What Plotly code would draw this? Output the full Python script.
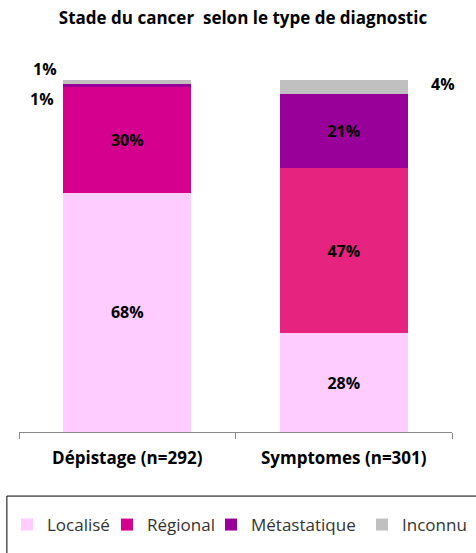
import plotly.graph_objects as go

categories = ["Dépistage (n=292)", "Symptomes (n=301)"]
series_names = ["Localisé", "Régional", "Métastatique", "Inconnu"]
localise = [68, 28]
regional = [30, 47]
metastatique = [1, 21]
inconnu = [1, 4]
title_text = "Stade du cancer  selon le type de diagnostic"

values = [localise, regional, metastatique, inconnu]
colors = [
    ["#FFCCFF", "#FFCCFF"],
    ["#D6008F", "#E6237F"],
    ["#990099", "#990099"],
    ["#C0C0C0", "#C0C0C0"],
]
legend_ids = ["legend", "legend2", "legend3", "legend4"]
legend_x_px = [7, 107, 211, 362]

FONT = "Open Sans"
fig = go.Figure()
for name, vals, col, lid in zip(series_names, values, colors, legend_ids):
    fig.add_trace(go.Bar(
        name=name, x=categories, y=vals, legend=lid,
        marker=dict(color=col, line=dict(width=0)),
        text=[f"{v}%" if v >= 5 else "" for v in vals],
        textposition="inside", insidetextanchor="middle", textangle=0,
        textfont=dict(family=FONT, size=16, color="#000000", weight="bold"),
        hoverinfo="skip",
    ))

def cum(i, j):
    return sum(values[k][j] for k in range(i))

ann = [
    (0, 3, -82, 13),   # Dépistage inconnu 1%
    (0, 2, -85, -14),  # Dépistage métastatique 1%
    (1, 3, 99, 3),     # Symptomes inconnu 4%
]
for j, i, xs, ys in ann:
    fig.add_annotation(
        x=categories[j], y=cum(i, j) + values[i][j] / 2,
        text=f"{values[i][j]}%", showarrow=False, xshift=xs, yshift=ys,
        font=dict(family=FONT, size=16, color="#000000", weight="bold"),
    )

fig.add_shape(type="rect", xref="paper", yref="paper",
              x0=-0.028, x1=1.07, y0=-0.36, y1=-0.182,
              line=dict(color="#000000", width=1), fillcolor="rgba(0,0,0,0)")

legend_common = dict(orientation="h", xref="container", xanchor="left",
                     yref="container", y=1 - 525 / 553, yanchor="middle",
                     font=dict(family=FONT, size=17, color="#333333"),
                     bgcolor="rgba(0,0,0,0)",
                     itemclick=False, itemdoubleclick=False)
legend_layout = {lid: dict(legend_common, x=px / 476)
                 for lid, px in zip(legend_ids, legend_x_px)}

fig.update_layout(
    width=476, height=553,
    barmode="stack", bargap=0.41,
    paper_bgcolor="white", plot_bgcolor="white",
    margin=dict(l=19, r=24, t=80, b=121, autoexpand=False),
    title=dict(text=title_text, x=243 / 476, xanchor="center", xref="container",
               y=1 - 18 / 553, yanchor="middle",
               font=dict(family=FONT, size=17, color="#000000", weight="bold")),
    showlegend=True,
    **legend_layout,
    xaxis=dict(showline=True, linecolor="#888888", linewidth=1,
               range=[-0.5, 1.5], autorange=False,
               ticks="outside", tickson="boundaries", ticklen=6, tickcolor="#888888",
               ticklabelstandoff=11,
               tickfont=dict(family=FONT, size=17, color="#000000", weight="bold"),
               showgrid=False),
    yaxis=dict(range=[0, 100], autorange=False, visible=False, showgrid=False),
)

fig.write_html("out.html", config={"displayModeBar": False},
               post_script="document.body.style.margin='0';")
